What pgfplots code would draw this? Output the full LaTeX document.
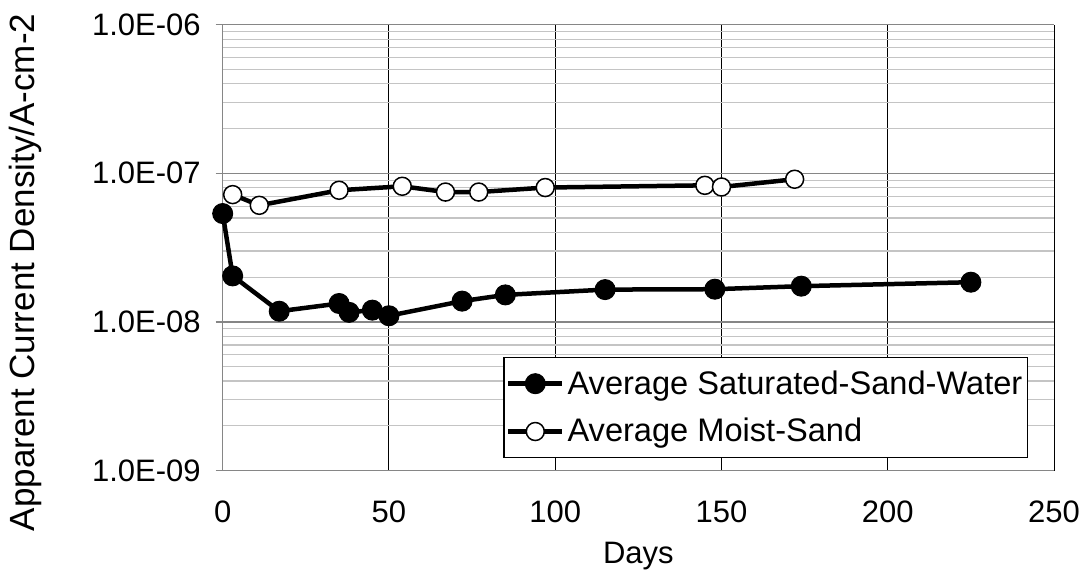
\documentclass[border=0pt]{standalone}
\usepackage{fontspec}
\setmainfont{Liberation Sans}
\usepackage{pgfplots}
\pgfplotsset{compat=1.18}
\definecolor{axgray}{HTML}{868686}
\definecolor{mingray}{HTML}{C4C4C4}
\newcommand{\tickfont}{\fontsize{15.5}{18}\selectfont}
\newcommand{\legfont}{\fontsize{16.3}{19}\selectfont}
\newcommand{\labfont}{\fontsize{17.5}{20}\selectfont}

\begin{document}
\begin{tikzpicture}
\useasboundingbox (-111.35pt,-50.25pt) rectangle (432.15pt,235.25pt);
\begin{semilogyaxis}[
  scale only axis, width=415.65pt, height=222.9pt,
  xmin=0, xmax=250, ymin=1e-9, ymax=1e-6,
  axis lines*=left, axis line style={axgray, line width=0.75pt, -},
  xtick={0,50,...,250}, xticklabels={0,50,100,150,200,250},
  ytick={1e-9,1e-8,1e-7,1e-6},
  yticklabels={1.0E-09,1.0E-08,1.0E-07,1.0E-06},
  xtick style={draw=none},
  ytick style={axgray, line width=0.75pt},
  tick align=outside, major tick length=3.5pt, minor tick length=0pt,
  ymajorgrids, yminorgrids, xmajorgrids,
  x grid style={black, line width=0.5pt},
  y grid style={axgray, line width=0.6pt},
  minor y grid style={mingray, line width=0.6pt},
  ticklabel style={font=\tickfont},
  xticklabel style={yshift=-8pt},
  yticklabel style={xshift=-4pt},
  xlabel={Days}, ylabel={Apparent Current Density/A-cm-2},
  xlabel style={font=\tickfont, at={(axis description cs:0.5,-0.2075)}, anchor=base},
  ylabel style={font=\labfont, at={(axis description cs:-0.2262,0.4442)}, anchor=base, rotate=0},
  clip=false,
  legend style={at={(axis description cs:0.9687,0.028)}, anchor=south east,
    font=\legfont, draw=black, line width=0.6pt, inner sep=1pt,
    nodes={inner xsep=1.5pt, inner ysep=5.3pt}, legend cell align=left},
  legend image code/.code={\draw[mark repeat=2, mark phase=2] plot coordinates {(0pt,0pt) (13.5pt,0pt) (27pt,0pt)};},
]
\addplot[black, line width=2.25pt, mark=*, mark size=5pt,
  mark options={fill=black, line width=0.5pt}]
  coordinates {(0,5.36e-8) (3,2.04e-8) (17,1.18e-8) (35,1.33e-8) (38,1.16e-8)
   (45,1.2e-8) (50,1.1e-8) (72,1.38e-8) (85,1.52e-8) (115,1.65e-8)
   (148,1.66e-8) (174,1.74e-8) (225,1.85e-8)};
\addlegendentry{Average Saturated-Sand-Water}
\addplot[black, line width=2.25pt, mark=*, mark size=4.5pt,
  mark options={fill=white, line width=0.75pt}]
  coordinates {(3,7.19e-8) (11,6.09e-8) (35,7.69e-8) (54,8.18e-8) (67,7.48e-8)
   (77,7.48e-8) (97,8.02e-8) (145,8.3e-8) (150,8.09e-8) (172,9.12e-8)};
\addlegendentry{Average Moist-Sand}
\end{semilogyaxis}
\end{tikzpicture}
\end{document}
